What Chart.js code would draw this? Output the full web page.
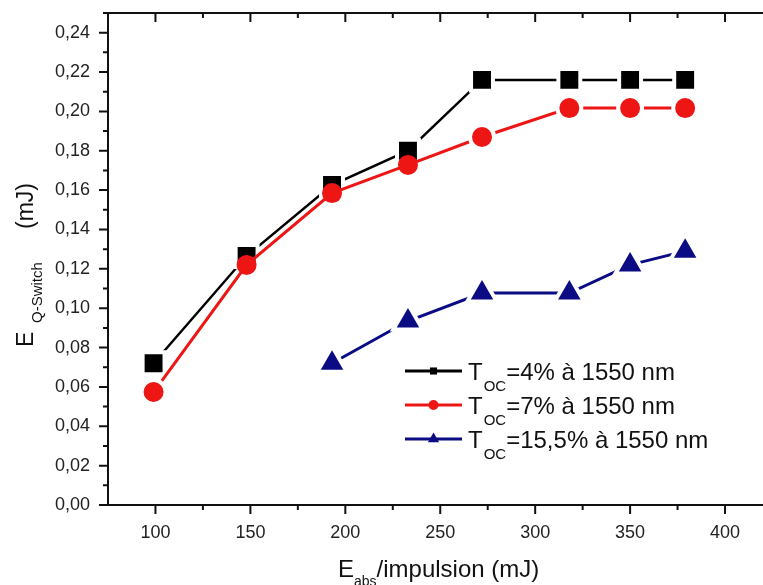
<!DOCTYPE html>
<html>
<head>
<meta charset="utf-8">
<script src="https://cdn.jsdelivr.net/npm/chart.js@4"></script>
<style>
  html, body { margin: 0; padding: 0; background: #fff; }
  canvas { display: block; }
</style>
</head>
<body>
<canvas id="myChart" width="763" height="585"></canvas>
<script>
'use strict';

// pumping energy per pulse (mJ)
const energyAbs = [99, 148, 193, 233, 272, 318, 350, 379];
const energyAbsBlue = [193, 233, 272, 318, 350, 379];

// Q-switched output energy (mJ)
const toc4 = [0.072, 0.1265, 0.1626, 0.180, 0.216, 0.216, 0.216, 0.216];
const toc7 = [0.0574, 0.122, 0.1585, 0.1728, 0.187, 0.2017, 0.2017, 0.2017];
const toc155 = [0.072, 0.0935, 0.1077, 0.1077, 0.122, 0.129];

const xTicks = [100, 150, 200, 250, 300, 350, 400];
const yTicks = [0, 0.02, 0.04, 0.06, 0.08, 0.10, 0.12, 0.14, 0.16, 0.18, 0.20, 0.22, 0.24];

const legendTexts = ['=4% à 1550 nm', '=7% à 1550 nm', '=15,5% à 1550 nm'];

const FONT = '"Liberation Sans", Arial, sans-serif';

function toPoints(xs, ys) {
    return xs.map((x, i) => ({ x: x, y: ys[i] }));
}

function noPadding(s) {
    s.paddingTop = 0;
    s.paddingBottom = 0;
    s.paddingLeft = 0;
    s.paddingRight = 0;
}

// frame, inner/outer ticks, titles and legend
const decorations = {
    id: 'decorations',
    afterDraw(chart) {
        const ctx = chart.ctx;
        const a = chart.chartArea;
        const xs = chart.scales.x;
        const ys = chart.scales.y;
        // the right axis of the original sits just outside the picture
        const rightAxis = xs.getPixelForValue(425);
        ctx.save();
        ctx.strokeStyle = '#111';
        ctx.lineWidth = 2;
        ctx.beginPath();
        ctx.moveTo(rightAxis, a.top);
        ctx.lineTo(a.left, a.top);
        ctx.lineTo(a.left, a.bottom);
        ctx.lineTo(rightAxis, a.bottom);
        ctx.lineTo(rightAxis, a.top);
        ctx.stroke();

        ctx.beginPath();
        for (let v = 100; v <= 425; v += 25) {
            const px = xs.getPixelForValue(v);
            const len = v % 50 === 0 ? 9 : 5;
            ctx.moveTo(px, a.bottom); ctx.lineTo(px, a.bottom + len);
            ctx.moveTo(px, a.top); ctx.lineTo(px, a.top + len);
        }
        for (let k = 0; k <= 25; k++) {
            const py = ys.getPixelForValue(k / 100);
            const len = k % 2 === 0 ? 9 : 5;
            ctx.moveTo(a.left, py); ctx.lineTo(a.left - len, py);
            ctx.moveTo(rightAxis, py); ctx.lineTo(rightAxis - len, py);
        }
        ctx.stroke();

        // x title
        ctx.fillStyle = '#111';
        ctx.textBaseline = 'alphabetic';
        ctx.textAlign = 'left';
        let x = 338;
        ctx.font = '24px ' + FONT;
        ctx.fillText('E', x, 577);
        x += ctx.measureText('E').width;
        ctx.font = '14px ' + FONT;
        ctx.fillText('abs', x, 586);
        x += ctx.measureText('abs').width;
        ctx.font = '24px ' + FONT;
        ctx.fillText('/impulsion (mJ)', x, 577);

        // y title
        ctx.save();
        ctx.translate(33, 347);
        ctx.rotate(-Math.PI / 2);
        ctx.font = '23px ' + FONT;
        ctx.fillText('E', 0, 0);
        ctx.font = '15px ' + FONT;
        ctx.fillText('Q-Switch', 24, 9);
        ctx.font = '23px ' + FONT;
        ctx.fillText('(mJ)', 118, 0);
        ctx.restore();

        // legend
        const legendOrder = [1, 0, 2];
        legendOrder.forEach((di, row) => {
            const ds = chart.data.datasets[di];
            const cy = 371 + row * 34;
            ctx.strokeStyle = ds.borderColor;
            ctx.lineWidth = 3;
            ctx.beginPath();
            ctx.moveTo(405, cy); ctx.lineTo(462, cy);
            ctx.stroke();
            ctx.fillStyle = ds.borderColor;
            Chart.helpers.drawPoint(ctx, {
                pointStyle: ds.pointStyle,
                rotation: 0,
                radius: ds.pointStyle === 'triangle' ? 6.5 : 5,
                borderWidth: 0
            }, 433.5, cy);
            ctx.fillStyle = '#111';
            let lx = 468;
            ctx.font = '24px ' + FONT;
            ctx.fillText('T', lx, cy + 9);
            lx += ctx.measureText('T').width + 1;
            ctx.font = '15px ' + FONT;
            ctx.fillText('OC', lx, cy + 20);
            lx += ctx.measureText('OC').width;
            ctx.font = '24px ' + FONT;
            ctx.fillText(legendTexts[row], lx, cy + 9);
        });
        ctx.restore();
    }
};

const red = '#ee1515';
const navy = '#0b0b84';

new Chart(document.getElementById('myChart').getContext('2d'), {
    type: 'line',
    data: {
        datasets: [
            {
                label: 'T_OC=7% à 1550 nm',
                data: toPoints(energyAbs, toc7),
                borderColor: red,
                backgroundColor: red,
                borderWidth: 3,
                pointStyle: 'circle',
                pointRadius: (c) => (c.dataIndex >= 1 && c.dataIndex <= 3 ? 10 : 12),
                pointBorderWidth: (c) => (c.dataIndex >= 1 && c.dataIndex <= 3 ? 0 : 4),
                pointBorderColor: '#fff',
                pointBackgroundColor: red,
                order: 1
            },
            {
                label: 'T_OC=4% à 1550 nm',
                data: toPoints(energyAbs, toc4),
                borderColor: '#000',
                backgroundColor: '#000',
                borderWidth: 2.5,
                pointStyle: 'rect',
                pointRadius: 15.5,
                pointBorderWidth: 4,
                pointBorderColor: '#fff',
                pointBackgroundColor: '#000',
                order: 2
            },
            {
                label: 'T_OC=15,5% à 1550 nm',
                data: toPoints(energyAbsBlue, toc155),
                borderColor: navy,
                backgroundColor: navy,
                borderWidth: 3,
                pointStyle: 'triangle',
                pointRadius: 17,
                pointBorderWidth: 4,
                pointBorderColor: '#fff',
                pointBackgroundColor: navy,
                order: 3
            }
        ]
    },
    options: {
        responsive: false,
        animation: false,
        layout: {
            autoPadding: false,
            padding: { top: 13, right: 0, left: 0, bottom: 0 }
        },
        plugins: {
            legend: { display: false },
            tooltip: { enabled: false }
        },
        scales: {
            x: {
                type: 'linear',
                min: 75,
                max: 420,
                afterBuildTicks: (s) => { s.ticks = xTicks.map((v) => ({ value: v })); },
                afterFit: (s) => { s.height = 80; noPadding(s); },
                grid: { display: false, drawTicks: false },
                border: { display: false },
                ticks: {
                    color: '#222',
                    padding: 17,
                    maxRotation: 0,
                    font: { size: 18, family: FONT }
                }
            },
            y: {
                type: 'linear',
                min: 0,
                max: 0.25,
                afterBuildTicks: (s) => { s.ticks = yTicks.map((v) => ({ value: v })); },
                afterFit: (s) => { s.width = 108; noPadding(s); },
                grid: { display: false, drawTicks: false },
                border: { display: false },
                ticks: {
                    color: '#222',
                    padding: 18,
                    font: { size: 18, family: FONT },
                    callback: (v) => v.toFixed(2).replace('.', ',')
                }
            }
        }
    },
    plugins: [decorations]
});
</script>
</body>
</html>
